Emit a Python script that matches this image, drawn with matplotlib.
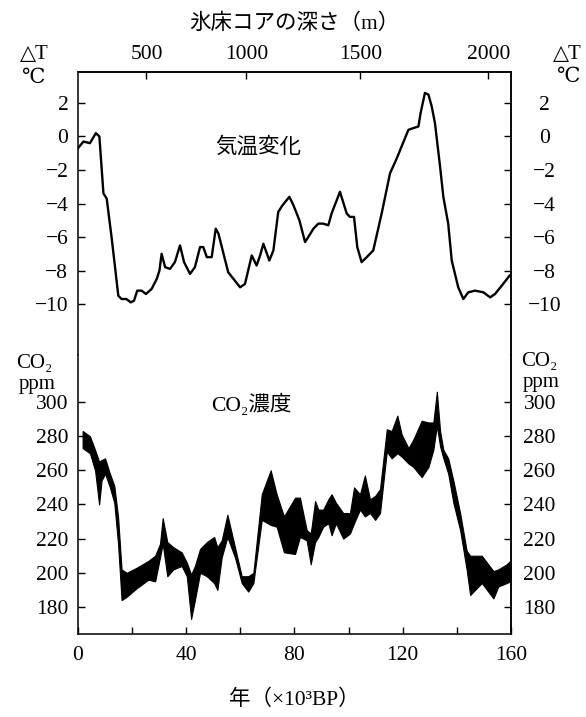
import numpy as np
import matplotlib.pyplot as plt

plt.rcParams['font.family'] = ['Liberation Serif', 'DejaVu Serif', 'Noto Sans CJK JP']

# 気温変化 (年代 ×10^3 BP, ΔT ℃)
temp_age = [0, 2, 4.4, 6.6, 7.9, 9.4, 10.6, 12.4, 14.9, 16.1, 17.9, 19.5, 20.7, 21.9,
            23.5, 25.1, 27.2, 29.1, 30.1, 30.9, 32.2, 34.0, 35.8, 37.7, 39.2, 41.4,
            43.2, 45.1, 46.3, 47.6, 49.4, 50.9, 51.9, 55.5, 59.9, 61.7, 64.2, 66.0,
            67.3, 68.5, 70.7, 72.2, 74.0, 75.6, 78.1, 79.6, 81.8, 83.9, 85.1, 87.0,
            88.8, 90.6, 92.5, 93.7, 96.8, 99.3, 100.5, 102.0, 103.2, 104.8, 106.7,
            109.1, 112.2, 115.3, 117.8, 122.1, 123.9, 125.8, 126.6, 128.2, 129.5,
            130.7, 131.9, 133.8, 135.0, 136.8, 138.1, 140.5, 142.4, 144.2, 146.7,
            149.8, 152.3, 154.1, 156.6, 159.5]
temp_dt = [-0.7, -0.3, -0.4, 0.2, 0.0, -3.4, -3.7, -6.0, -9.5, -9.7, -9.7, -9.9, -9.8,
           -9.2, -9.2, -9.4, -9.1, -8.5, -8.0, -7.0, -7.8, -7.9, -7.5, -6.5, -7.5, -8.2,
           -7.8, -6.6, -6.6, -7.2, -7.2, -5.5, -5.8, -8.1, -9.0, -8.8, -7.1, -7.7,
           -7.1, -6.4, -7.4, -6.8, -4.5, -4.1, -3.6, -4.1, -5.0, -6.3, -6.0, -5.5,
           -5.2, -5.2, -5.3, -4.6, -3.3, -4.6, -4.8, -4.8, -6.6, -7.5, -7.2, -6.8,
           -4.6, -2.2, -1.3, 0.4, 0.5, 0.6, 1.4, 2.6, 2.5, 1.8, 0.8, -1.8, -3.6, -5.2,
           -7.4, -9.0, -9.7, -9.3, -9.2, -9.3, -9.6, -9.4, -8.9, -8.3]

# CO2濃度 (帯の上端と下端, ppm)
co2_age = [1.7, 4.4, 6.3, 7.8, 8.7, 10.0, 11.8, 13.4, 14.8, 16.1, 18.0, 21.7, 26.0,
           28.5, 30.3, 31.3, 33.0, 35.2, 38.3, 40.2, 41.8, 43.2, 45.1, 47.6, 50.3,
           51.5, 53.1, 55.2, 58.0, 60.5, 62.9, 64.8, 67.9, 71.2, 73.4, 76.1, 80.2,
           82.0, 84.5, 86.0, 87.6, 88.8, 90.6, 92.5, 93.7, 95.3, 98.0, 100.5, 102.0,
           104.2, 106.0, 107.9, 109.8, 111.6, 114.1, 115.9, 118.0, 119.6, 122.1,
           123.9, 127.0, 129.5, 131.3, 132.6, 133.8, 135.0, 136.8, 138.7, 141.2,
           143.6, 144.9, 149.2, 153.5, 155.3, 158.4, 159.7]
co2_hi = [283, 280, 272, 265, 266, 267, 258, 251, 233, 202, 200, 203, 207, 210, 217,
          232, 218, 215, 212, 206, 199, 204, 214, 218, 221, 215, 219, 234, 215, 198,
          198, 200, 246, 260, 246, 233, 244, 244, 225, 223, 242, 237, 237, 243, 246,
          241, 235, 235, 250, 246, 257, 243, 245, 249, 284, 283, 292, 281, 273, 278,
          289, 288, 288, 306, 283, 272, 267, 254, 235, 213, 210, 210, 201, 202, 205,
          207]
co2_lo = [273, 270, 260, 240, 254, 258, 250, 241, 217, 184, 186, 191, 196, 195, 209,
          217, 198, 202, 204, 198, 173, 184, 200, 198, 194, 190, 209, 221, 209, 194,
          189, 194, 231, 228, 227, 212, 211, 221, 219, 205, 218, 221, 227, 229, 222,
          229, 220, 223, 229, 237, 233, 235, 231, 235, 271, 267, 270, 268, 264, 262,
          256, 262, 272, 286, 274, 267, 258, 241, 225, 202, 187, 194, 185, 192, 194,
          195]

age_ticks = [0, 20, 40, 60, 80, 100, 120, 140, 160]
age_labels = ['0', '', '40', '', '80', '', '120', '', '160']
depth_ticks = [500, 1000, 1500, 2000]
depth_age = [25.3, 62.2, 104.3, 151.6]
dt_ticks = [2, 0, -2, -4, -6, -8, -10]
co2_ticks = [300, 280, 260, 240, 220, 200, 180]

fs = 15.5
fs_unit = 15
lw_frame = 1.1

fig = plt.figure(figsize=(5.86, 7.17), dpi=100)
ax_t = fig.add_axes([0.1331, 0.5049, 0.7389, 0.3947])
ax_b = fig.add_axes([0.1331, 0.1158, 0.7389, 0.3891])

# 上: 気温変化
ax_t.plot(temp_age, temp_dt, color='black', lw=1.7, solid_joinstyle='round')
ax_t.set_xlim(0, 160)
ax_t.set_ylim(-13.04, 3.85)
ax_t.spines['bottom'].set_visible(False)
ax_t.set_xticks([])
ax_t.set_yticks(dt_ticks)
ax_t.tick_params(axis='y', direction='in', length=5, width=1, pad=7, labelsize=fs)
ax_t.text(66.5, -0.65, '気温変化', ha='center', va='center', fontsize=15.5)

top = ax_t.secondary_xaxis('top')
top.set_xticks(depth_age, labels=[str(d) for d in depth_ticks])
top.tick_params(direction='in', length=5, width=1, pad=6, labelsize=fs)
top.set_xlabel('氷床コアの深さ（m）', fontsize=15.5, labelpad=11)

rt = ax_t.secondary_yaxis('right')
rt.set_yticks(dt_ticks)
rt.tick_params(direction='in', length=5, width=1, pad=24, labelsize=fs)
for lbl in rt.get_yticklabels():
    lbl.set_ha('center')

# 下: CO2濃度
ax_b.fill_between(co2_age, co2_lo, co2_hi, color='black', lw=0.8, edgecolor='black')
ax_b.set_xlim(0, 160)
ax_b.set_ylim(164.2, 327.5)
ax_b.spines['top'].set_visible(False)
ax_b.set_xticks(age_ticks, labels=age_labels)
ax_b.set_yticks(co2_ticks)
ax_b.tick_params(direction='in', length=5, width=1, pad=7, labelsize=fs)
ax_b.tick_params(axis='x', pad=9)
ax_b.set_xlabel('年（×10³BP）', fontsize=15.5, labelpad=17)
ax_b.text(63.9, 298.2, 'CO₂濃度', ha='center', va='center', fontsize=15.5)

rb = ax_b.secondary_yaxis('right')
rb.set_yticks(co2_ticks)
rb.tick_params(direction='in', length=5, width=1, pad=9, labelsize=fs)

for a in (ax_t, ax_b, top, rt, rb):
    for s in a.spines.values():
        s.set_linewidth(lw_frame)

# 軸の単位
fig.text(34 / 586, 1 - 54 / 717, '△T', ha='center', va='center', fontsize=fs_unit)
fig.text(33 / 586, 1 - 78 / 717, '℃', ha='center', va='center', fontsize=fs_unit)
fig.text(567 / 586, 1 - 54 / 717, '△T', ha='center', va='center', fontsize=fs_unit)
fig.text(568 / 586, 1 - 77 / 717, '℃', ha='center', va='center', fontsize=fs_unit)
fig.text(34 / 586, 1 - 364 / 717, 'CO₂', ha='center', va='center', fontsize=fs_unit)
fig.text(37 / 586, 1 - 385 / 717, 'ppm', ha='center', va='center', fontsize=fs_unit)
fig.text(539 / 586, 1 - 362 / 717, 'CO₂', ha='center', va='center', fontsize=fs_unit)
fig.text(541 / 586, 1 - 383 / 717, 'ppm', ha='center', va='center', fontsize=fs_unit)

fig.savefig('out.png', dpi=100)
